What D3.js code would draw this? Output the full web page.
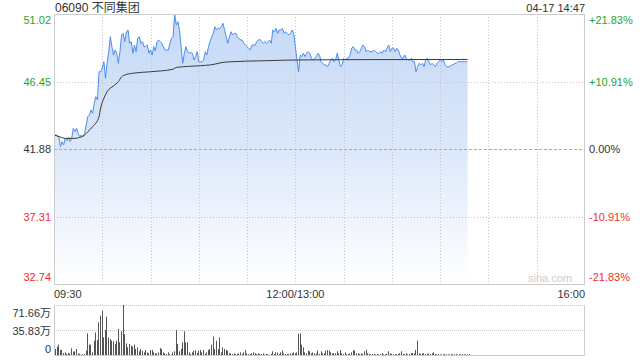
<!DOCTYPE html>
<html lang="zh">
<head>
<meta charset="UTF-8">
<title>06090 不同集团 分时</title>
<style>
    body { margin: 0; background: #fff; }
    svg { display: block; font-family: Arial, "Liberation Sans", "Noto Sans CJK SC", sans-serif; }
</style>
</head>
<body>
<svg id="chart" width="640" height="360"></svg>
<script src="https://d3js.org/d3.v7.min.js"></script>
<script>
// header
const stockCode = '06090', stockName = '不同集团', stamp = '04-17 14:47';

// axis ticks
const priceTicks = [51.02, 46.45, 41.88, 37.31, 32.74];
const pctTicks = ['+21.83%', '+10.91%', '0.00%', '-10.91%', '-21.83%'];
const timeTicks = ['09:30', '12:00/13:00', '16:00'];
const volTicks = ['71.66万', '35.83万', '0'];
const volMax = 71.66;

// minute prices, 09:30 - 12:00
const amPrices = [
    42.83, 42.83, 42.78, 42.71, 42.04, 42.38, 42.15, 42.61, 42.44, 42.65,
    42.38, 42.61, 43.28, 43.05, 43.28, 42.94, 42.71, 42.83, 42.71, 42.94,
    43.50, 44.07, 44.18, 44.52, 44.30, 44.97, 45.42, 45.20, 47.11, 47.11,
    47.34, 47.79, 46.67, 47.68, 48.47, 49.48, 48.81, 48.24, 48.58, 48.36,
    47.68, 48.47, 49.60, 49.71, 49.14, 49.82, 49.94, 49.04, 49.14, 48.36,
    48.92, 48.47, 49.37, 49.48, 49.04, 49.14, 48.81, 48.81, 48.92, 48.36,
    48.58, 48.24, 48.81, 48.52, 49.14, 49.26, 49.15, 49.04, 48.80, 48.58,
    48.58, 48.58, 49.00, 49.37, 49.48, 51.02, 50.28, 50.50, 49.94, 48.81,
    47.68, 48.36, 48.81, 48.47, 48.40, 48.40, 48.36, 47.91, 48.13, 48.47,
    47.79, 47.79, 47.79, 47.91, 48.47, 48.24, 48.81, 49.14, 49.48, 49.71,
    50.16, 49.94, 50.05, 50.05, 50.16, 50.39, 49.94, 49.48, 49.04, 49.48,
    49.82, 49.60, 49.71, 49.71, 49.48, 49.37, 49.26, 49.26, 49.04, 48.92,
    48.80, 48.70, 48.58, 48.92, 48.92, 48.92, 49.14, 49.26, 49.30, 49.14,
    49.04, 49.14, 49.04, 49.14, 49.26, 49.04, 49.94, 49.82, 50.05, 49.71,
    49.94, 49.94, 50.05, 49.71, 49.82, 49.71, 49.60, 49.71, 49.94, 49.71,
    48.81
];
// minute prices, 13:01 - 14:47
const pmPrices = [
    47.91, 47.11, 48.24, 48.13, 48.36, 48.13, 48.36, 48.47, 48.36, 48.02,
    47.91, 48.02, 48.13, 48.36, 48.24, 47.79, 47.68, 47.57, 47.57, 47.45,
    47.68, 47.91, 48.02, 47.79, 47.91, 48.36, 47.91, 47.45, 47.57, 48.02,
    47.91, 48.02, 48.02, 48.24, 48.70, 48.81, 48.58, 48.58, 48.36, 48.47,
    48.70, 48.92, 48.81, 48.47, 48.58, 48.47, 48.47, 48.47, 48.58, 48.47,
    48.36, 48.36, 48.47, 48.36, 48.58, 48.47, 48.70, 48.92, 48.47, 48.70,
    48.70, 48.47, 48.70, 48.58, 48.24, 48.02, 48.02, 48.24, 48.02, 47.91,
    47.91, 48.02, 47.79, 47.79, 47.11, 47.45, 47.68, 47.57, 47.68, 47.45,
    47.91, 48.02, 47.79, 47.57, 47.68, 47.57, 47.45, 47.68, 47.79, 47.91,
    47.79, 47.91, 47.57, 47.45, 47.45, 47.45, 47.57, 47.57, 47.68, 47.68,
    47.79, 47.79, 47.79, 47.79, 47.79, 47.79, 47.79
];

// average price line
const avgTimes = ['09:30', '09:34', '09:37', '09:43', '09:46', '09:49', '09:51', '09:54', '09:58',
    '09:59', '10:01', '10:03', '10:07', '10:10', '10:12', '10:14', '10:19', '10:30', '10:44',
    '10:46', '11:01', '11:07', '11:17', '11:42', '13:03', '13:40', '14:47'];
const avgPrices = [42.83, 42.69, 42.60, 42.60, 42.66, 42.83, 43.05, 43.39, 44.07,
    44.66, 45.31, 45.76, 46.15, 46.44, 46.77, 46.89, 47.01, 47.11, 47.28,
    47.40, 47.52, 47.57, 47.77, 47.86, 47.91, 47.93, 47.94];

// minute volumes (万股)
const amVolumes = [
    8.6, 12, 14.8, 7.2, 7.2, 2.9, 3.8, 1.4, 2.9, 2.0,
    9.6, 4.8, 5.3, 8.6, 2.4, 1.4, 0.5, 0.9, 1.4, 6.2,
    31, 14.8, 14.8, 3.8, 20.5, 32.5, 21.5, 46.8, 56.4, 63.5,
    25.3, 35.8, 54.9, 25.3, 22.9, 20.5, 19.6, 15.8, 20.5, 37.3,
    18.2, 33.9, 71.66, 30.1, 16.7, 11, 15.8, 13.4, 12, 14.8,
    8.6, 11, 5.3, 8.6, 6.2, 3.8, 7.2, 3.8, 2.4, 7.2,
    7.2, 3.8, 2.4, 2.4, 3.8, 10, 8.6, 3.8, 2.4, 1.4,
    3.8, 1.4, 0.5, 3.8, 5.3, 35.8, 15.8, 5.3, 8.6, 18.2,
    33.9, 18.2, 18.2, 3.8, 1.4, 3.8, 6.2, 7.2, 2.9, 6.2,
    7.2, 3.8, 7.2, 1.4, 3.8, 7.2, 8.6, 14.8, 26.3, 8.6,
    20.5, 8.6, 25.3, 3.8, 11, 8.6, 7.2, 6.2, 2.4, 2.4,
    1.4, 2.4, 1.4, 1.4, 2.4, 3.8, 1.4, 3.8, 7.2, 2.4,
    1.4, 1.4, 2.4, 3.8, 2.4, 1.4, 2.4, 1.4, 1.4, 2.4,
    0.5, 1.4, 1.4, 0.5, 1.4, 5.3, 1.4, 3.8, 3.8, 1.4,
    3.8, 6.2, 2.4, 1.4, 1.4, 1.4, 2.4, 2.4, 3.8, 2.4,
    3.8
];
const pmVolumes = [
    30.1, 31, 14.8, 11, 3.8, 2.4, 6.2, 5.3, 2.4, 3.8,
    2.4, 2.4, 6.2, 1.4, 5.3, 2.4, 2.4, 6.2, 7.2, 6.2,
    3.8, 2.4, 2.4, 2.4, 5.3, 2.4, 7.2, 2.4, 1.4, 3.8,
    1.0, 1.4, 2.4, 3.8, 7.2, 6.2, 2.4, 2.4, 1.4, 2.4,
    1.4, 5.3, 7.6, 2.4, 1.4, 1, 1.4, 1.4, 1.0, 1.4,
    1, 1.4, 2.4, 1, 1.4, 1.4, 5.3, 2.4, 1.4, 1,
    1.4, 1.0, 1.4, 2.4, 5.3, 1.4, 1.4, 2.4, 1, 1.4,
    2.9, 2.9, 2.4, 7.2, 20.5, 2.4, 1.4, 2.4, 2.4, 1.4,
    1.4, 2.4, 1.4, 2.4, 3.8, 1.4, 1, 1.4, 1, 0.5,
    1, 1.4, 1, 1, 0.5, 1.4, 1, 1, 1.4, 0.5,
    1, 1, 1.4, 1, 0.5, 1, 1.4
];

// time helpers: trading minute index, 09:30 = 0, 12:00/13:00 = 150, 16:00 = 330
function clock(t) {
    return String(Math.floor(t / 60)).padStart(2, '0') + ':' + String(t % 60).padStart(2, '0');
}
function tradingMinute(s) {
    const [h, m] = s.split(':').map(Number);
    const c = h * 60 + m;
    return c <= 720 ? c - 570 : c - 630;
}

const series = amPrices.map((p, i) => ({ t: clock(570 + i), p, v: amVolumes[i] }))
    .concat(pmPrices.map((p, i) => ({ t: clock(781 + i), p, v: pmVolumes[i] })));
const avgSeries = avgTimes.map((t, i) => ({ t, p: avgPrices[i] }));

const plotL = 54, plotR = 585, plotT = 14, plotB = 284;
const volT = 305, volB = 355;
const green = '#2aa52a', red = '#ee2e2e', textColor = '#333';

const svg = d3.select('#chart');
const x = d3.scaleLinear().domain([0, 330]).range([plotL, plotR]);
const y = d3.scaleLinear().domain([priceTicks[4], priceTicks[0]]).range([plotB, plotT]);
const yv = d3.scaleLinear().domain([0, volMax]).range([volB, volT]);
const crisp = v => Math.round(v) + 0.5;

// gradient for area
const grad = svg.append('defs').append('linearGradient')
    .attr('id', 'fillGrad').attr('gradientUnits', 'userSpaceOnUse')
    .attr('x1', 0).attr('x2', 0).attr('y1', plotT).attr('y2', plotB);
grad.append('stop').attr('offset', 0).attr('stop-color', '#c4d8f6');
grad.append('stop').attr('offset', 0.5).attr('stop-color', '#dce8fa');
grad.append('stop').attr('offset', 1).attr('stop-color', '#ffffff');

// header text
svg.append('text').attr('x', 55).attr('y', 12)
    .attr('font-size', 12).attr('fill', textColor)
    .text(stockCode + ' ' + stockName);
svg.append('text').attr('x', plotR).attr('y', 12).attr('text-anchor', 'end')
    .attr('font-size', 11).attr('fill', textColor).text(stamp);

// area under the price line
const area = d3.area()
    .x(d => x(tradingMinute(d.t)))
    .y0(plotB)
    .y1(d => y(d.p));
const line = d3.line()
    .x(d => x(tradingMinute(d.t)))
    .y(d => y(d.p));

svg.append('path').datum(series)
    .attr('d', area).attr('fill', 'url(#fillGrad)');

// vertical grid every 30 minutes
svg.append('g').selectAll('line')
    .data(d3.range(30, 330, 30))
    .join('line')
    .attr('x1', d => crisp(x(d))).attr('x2', d => crisp(x(d)))
    .attr('y1', plotT).attr('y2', plotB)
    .attr('stroke', '#c4c4c4').attr('stroke-dasharray', '1,2');

// horizontal grid
svg.append('g').selectAll('line')
    .data(priceTicks.slice(1, 4))
    .join('line')
    .attr('x1', plotL).attr('x2', plotR)
    .attr('y1', d => crisp(y(d))).attr('y2', d => crisp(y(d)))
    .attr('stroke', (d, i) => i === 1 ? '#aaa' : '#c4c4c4')
    .attr('stroke-dasharray', (d, i) => i === 1 ? '3,2' : '1,2');

// price line + avg line
svg.append('path').datum(series)
    .attr('d', line).attr('fill', 'none')
    .attr('stroke', '#4b8cf0').attr('stroke-width', 1);
svg.append('path').datum(avgSeries)
    .attr('d', line.curve(d3.curveMonotoneX)).attr('fill', 'none')
    .attr('stroke', '#3a3a3a').attr('stroke-width', 1);

// plot border
svg.append('rect')
    .attr('x', plotL + 0.5).attr('y', plotT + 0.5)
    .attr('width', plotR - plotL - 1).attr('height', plotB - plotT)
    .attr('fill', 'none').attr('stroke', '#ccc');

// watermark
svg.append('text').attr('x', 572).attr('y', 282).attr('text-anchor', 'end')
    .attr('font-size', 11).attr('fill', '#ccc').text('sina.com');

// price labels (left) and percent labels (right)
const labelY = (d, i) => i === 0 ? 24 : i === 4 ? 281 : y(d) + 4;
const labelColor = i => i < 2 ? green : i > 2 ? red : textColor;
svg.append('g').selectAll('text')
    .data(priceTicks)
    .join('text')
    .attr('x', 51).attr('y', labelY).attr('text-anchor', 'end')
    .attr('font-size', 11).attr('fill', (d, i) => labelColor(i))
    .text(d => d.toFixed(2));
svg.append('g').selectAll('text')
    .data(pctTicks)
    .join('text')
    .attr('x', 589).attr('y', (d, i) => labelY(priceTicks[i], i))
    .attr('font-size', 11).attr('fill', (d, i) => labelColor(i))
    .text(d => d);

// time labels
svg.append('g').selectAll('text')
    .data(timeTicks)
    .join('text')
    .attr('x', d => x(tradingMinute(d.split('/').pop())))
    .attr('y', 298)
    .attr('text-anchor', (d, i) => ['start', 'middle', 'end'][i])
    .attr('font-size', 11).attr('fill', textColor)
    .text(d => d);

// volume panel
svg.append('g').selectAll('line')
    .data([volMax, volMax / 2])
    .join('line')
    .attr('x1', plotL).attr('x2', plotR)
    .attr('y1', d => crisp(yv(d))).attr('y2', d => crisp(yv(d)))
    .attr('stroke', '#c8c8c8').attr('stroke-dasharray', '1,1');
svg.append('g').selectAll('rect')
    .data(series)
    .join('rect')
    .attr('x', d => Math.round(x(tradingMinute(d.t))) + 1)
    .attr('width', 1)
    .attr('y', d => yv(d.v))
    .attr('height', d => volB - yv(d.v))
    .attr('fill', '#555');
svg.append('path')
    .attr('d', `M${plotL + 0.5},${volT}V${volB + 0.5}H${plotR - 0.5}V${volT}`)
    .attr('fill', 'none').attr('stroke', '#ccc');
svg.append('g').selectAll('text')
    .data(volTicks)
    .join('text')
    .attr('x', 51).attr('y', (d, i) => 317 + i * 18)
    .attr('text-anchor', 'end')
    .attr('font-size', 11).attr('fill', textColor)
    .text(d => d);
</script>
</body>
</html>
